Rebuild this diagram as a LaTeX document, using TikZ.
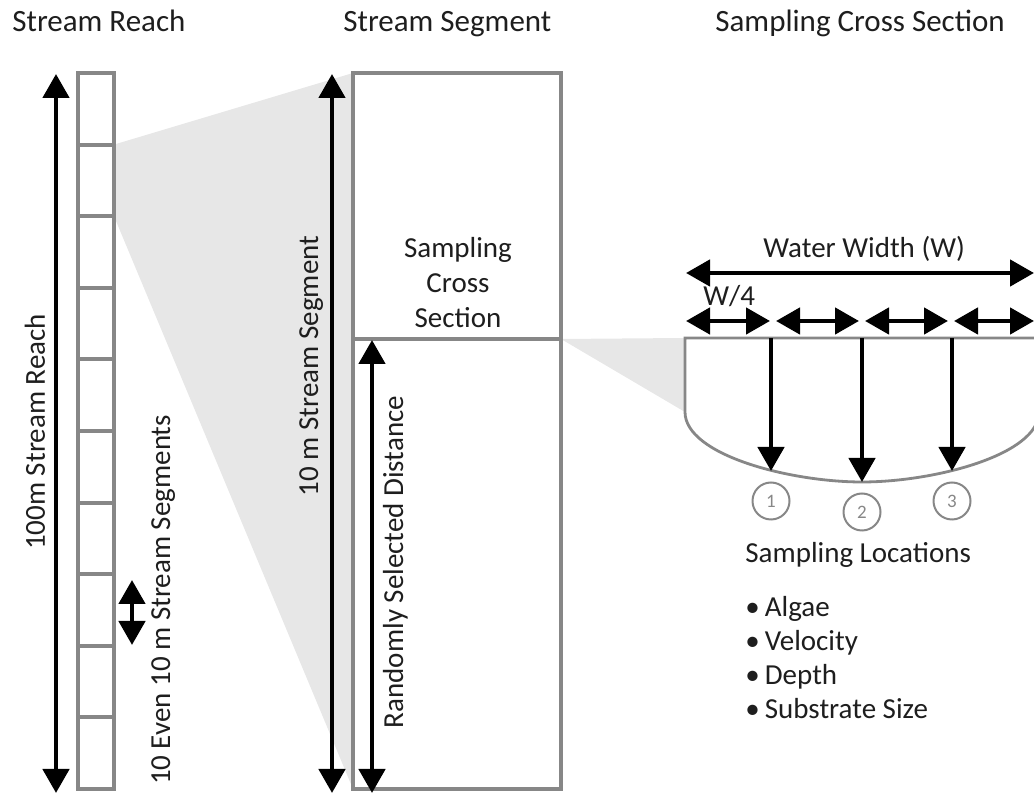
\documentclass[tikz,border=0pt]{standalone}
\usepackage{fontspec}
\setmainfont{Carlito}
\usetikzlibrary{arrows.meta}
\definecolor{boxgray}{HTML}{878787}
\definecolor{fangray}{HTML}{E7E7E7}
\definecolor{inkcol}{HTML}{1E1E1E}
\tikzset{
  boxline/.style={draw=boxgray, line width=2pt},
  xsline/.style={draw=boxgray, line width=1.4pt},
  dimarrow/.style={line width=2.3pt, {Triangle[width=13pt,length=12pt]}-{Triangle[width=13pt,length=12pt]}},
  droparrow/.style={line width=2.3pt, -{Triangle[width=13pt,length=12pt]}},
  titletext/.style={text=inkcol, inner sep=0pt, font=\fontsize{15.5}{18}\selectfont},
  bodytext/.style={text=inkcol, inner sep=0pt, font=\fontsize{14.5}{17.5}\selectfont},
  locmark/.style={circle, draw=boxgray, line width=1pt, minimum size=18.5pt, inner sep=0pt, text=boxgray, font=\fontsize{9.5}{11}\selectfont}
}

\begin{document}
\begin{tikzpicture}[x=0.5pt,y=-0.5pt]
	%%%%% START %%%%%
	\clip (0,0) rectangle (1034,795);
	
	% shaded zoom fans
	\fill[fangray] (114,144.6) -- (353,73) -- (353,789) -- (114,216.2) -- cycle;
	\fill[fangray] (561,339) -- (685,338) -- (685,412) -- cycle;
	
	% stream reach
	\draw[boxline, fill=white] (78,73) rectangle (114,789);
	\foreach \k in {1,...,9}
		\draw[boxline] (78,{73+71.6*\k}) -- (114,{73+71.6*\k});
	
	% stream segment
	\draw[boxline, fill=white] (353,73) rectangle (561,789);
	\draw[boxline] (353,339) -- (561,339);
	
	% cross section
	\draw[xsline, fill=white] (685,338) -- (685,412) .. controls (685,455) and (790,482) .. (862,482)
		.. controls (934,482) and (1039,455) .. (1039,412) -- (1039,338) -- cycle;
	
	\coordinate (reachtop) at (56,74);
	\coordinate (reachbot) at (56,793);
	\coordinate (segtop) at (132,580);
	\coordinate (segbot) at (132,645);
	\coordinate (sectop) at (332,74);
	\coordinate (secbot) at (332,793);
	\coordinate (randtop) at (372,340);
	\coordinate (randbot) at (372,793);
	\coordinate (wleft) at (686,273);
	\coordinate (wright) at (1034,273);
	
	\draw[dimarrow] (reachtop) -- (reachbot);
	\draw[dimarrow] (segtop) -- (segbot);
	\draw[dimarrow] (sectop) -- (secbot);
	\draw[dimarrow] (randtop) -- (randbot);
	\draw[dimarrow] (wleft) -- (wright);
	\foreach \a/\b in {686/770, 776/859, 865/948, 954/1034}
		\draw[dimarrow] (\a,321) -- (\b,321);
	
	% sampling points
	\node[locmark] (loc1) at (771,501) {1};
	\node[locmark] (loc2) at (862,512) {2};
	\node[locmark] (loc3) at (952,501) {3};
	\coordinate (drop1) at (771,338);
	\coordinate (drop2) at (862,338);
	\coordinate (drop3) at (952,338);
	\draw[droparrow] (drop1) -- (771,471);
	\draw[droparrow] (drop2) -- (862,482);
	\draw[droparrow] (drop3) -- (952,471);
	
	% labels
	\node[titletext, anchor=base west] (reachtitle) at (12,32) {Stream Reach};
	\node[titletext, anchor=base west] (segtitle) at (343,32) {Stream Segment};
	\node[titletext, anchor=base west] (xstitle) at (715,32) {Sampling Cross Section};
	
	\node[bodytext, rotate=90, anchor=base] (reachlabel) at (45,432) {100m Stream Reach};
	\node[bodytext, rotate=90, anchor=base] (evenlabel) at (170,600) {10 Even 10 m Stream Segments};
	\node[bodytext, rotate=90, anchor=base] (seglabel) at (318,366) {10 m Stream Segment};
	\node[bodytext, rotate=90, anchor=base] (randlabel) at (403,562) {Randomly Selected Distance};
	\node[bodytext, align=center] (xslabel) at (458,283) {Sampling\\Cross\\Section};
	
	\node[bodytext, anchor=base west] (widthlabel) at (763,258) {Water Width (W)};
	\node[bodytext, anchor=base west] (quarterlabel) at (703,306) {W/4};
	\node[bodytext, anchor=base west] (loclabel) at (745,563) {Sampling Locations};
	\foreach \y/\t [count=\i] in {617/Algae, 651/Velocity, 685/Depth, 719/Substrate Size}
		\node[bodytext, anchor=base west] (item\i) at (745,\y) {\textbullet\hspace{2.5pt}\t};
	
	%%%%% END %%%%%
\end{tikzpicture}
\end{document}
